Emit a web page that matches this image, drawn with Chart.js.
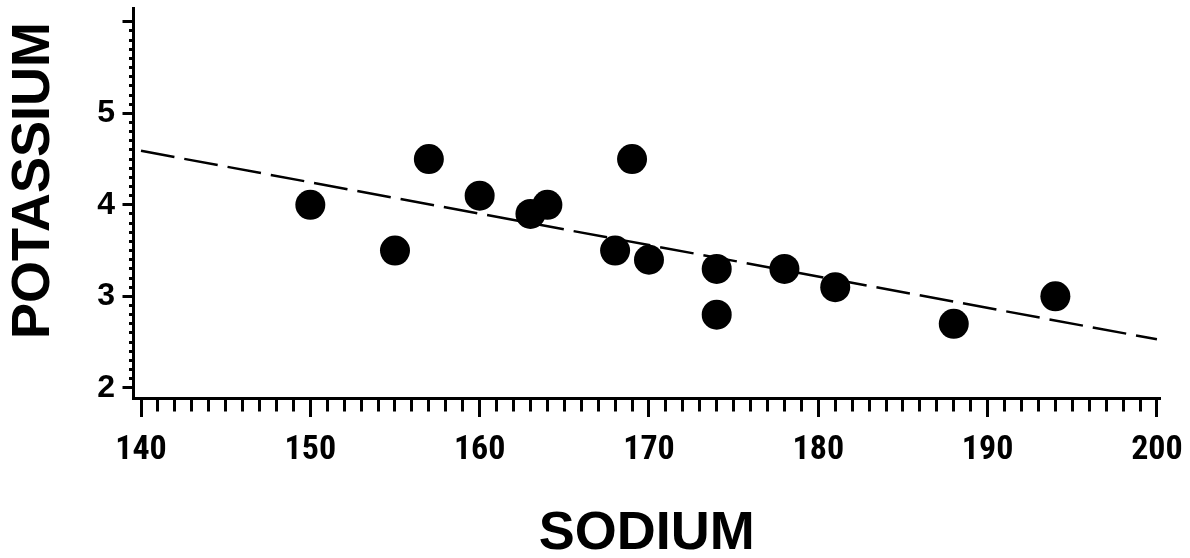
<!DOCTYPE html>
<html>
<head>
<meta charset="utf-8">
<script src="https://cdn.jsdelivr.net/npm/chart.js@4.4.1/dist/chart.umd.min.js"></script>
<style>
  html, body { margin: 0; padding: 0; background: #ffffff; }
  canvas { display: block; }
</style>
</head>
<body>
<canvas id="c" width="1190" height="558"></canvas>
<script>
// ---- data ----
const sodium    = [150, 155, 157, 160, 163, 164, 168, 169, 170, 174, 174, 178, 181, 188, 194];
const potassium = [4.0, 3.5, 4.5, 4.1, 3.9, 4.0, 3.5, 4.5, 3.4, 3.3, 2.8, 3.3, 3.1, 2.7, 3.0];

// dashed fitted line, end points
const fitSodium    = [140, 200];
const fitPotassium = [4.59, 2.53];

// axis ticks
const xMajorTicks = [140, 150, 160, 170, 180, 190, 200];
const xTickLabels = ['140', '150', '160', '170', '180', '190', '200'];
const yMajorTicks = [2, 3, 4, 5, 6];
const yTickLabels = ['2', '3', '4', '5', ''];
const xMinorStep = 1;
const yMinorStep = 0.1;

const xTitle = 'SODIUM';
const yTitle = 'POTASSIUM';

// ---- helpers ----
const near = (a, b) => Math.abs(a - b) < 1e-6;
const xMajorIndex = v => xMajorTicks.findIndex(m => near(m, v));
const yMajorIndex = v => yMajorTicks.findIndex(m => near(m, v));

function minorList(first, last, step) {
  const out = [];
  const n = Math.round((last - first) / step);
  for (let i = 0; i <= n; i++) out.push(Math.round((first + i * step) * 1000) / 1000);
  return out;
}

const titleFont = { family: '"Liberation Sans", Arial, sans-serif', size: 54, weight: 'bold', lineHeight: 0.9 };
const narrowFamily = '"Liberation Sans Narrow", "Arial Narrow", "Roboto Condensed", "Noto Sans ExtraCondensed", "Noto Sans Condensed", "Noto Sans SemiCondensed", "DejaVu Sans Condensed", sans-serif';

new Chart(document.getElementById('c'), {
  type: 'scatter',
  data: {
    datasets: [
      {
        type: 'line',
        label: 'fit',
        data: fitSodium.map((x, i) => ({ x: x, y: fitPotassium[i] })),
        borderColor: '#000000',
        borderWidth: 2.5,
        borderDash: [34, 10],
        pointRadius: 0,
        fill: false,
        tension: 0
      },
      {
        label: 'observations',
        data: sodium.map((x, i) => ({ x: x, y: potassium[i] })),
        backgroundColor: '#000000',
        borderColor: '#000000',
        borderWidth: 0,
        pointRadius: 15,
        pointHoverRadius: 15
      }
    ]
  },
  options: {
    responsive: false,
    animation: false,
    events: [],
    layout: { autoPadding: false, padding: { top: 8, right: 30, bottom: 0, left: 0 } },
    plugins: { legend: { display: false }, tooltip: { enabled: false } },
    scales: {
      x: {
        type: 'linear',
        position: 'bottom',
        min: 139.557,
        max: 200.18,
        afterBuildTicks: s => {
          s.ticks = minorList(xMajorTicks[0], xMajorTicks[xMajorTicks.length - 1], xMinorStep).map(v => ({ value: v }));
        },
        afterFit: s => { s.height = 160; s.paddingLeft = 0; s.paddingRight = 0; },
        grid: {
          drawOnChartArea: false,
          drawTicks: true,
          tickLength: 19,
          tickWidth: 3,
          tickColor: '#000000',
          tickBorderDash: ctx => (ctx.tick && xMajorIndex(ctx.tick.value) < 0) ? [11.5, 100] : []
        },
        border: { display: true, color: '#000000', width: 3 },
        ticks: {
          autoSkip: false,
          maxRotation: 0,
          minRotation: 0,
          padding: 16,
          color: '#000000',
          font: { family: narrowFamily, size: 34, weight: 'bold', lineHeight: 1 },
          callback: v => { const i = xMajorIndex(v); return i >= 0 ? xTickLabels[i] : ''; }
        },
        title: { display: true, text: xTitle, color: '#000000', font: titleFont, padding: { top: 0, bottom: 0 } }
      },
      y: {
        type: 'linear',
        position: 'left',
        min: 1.889,
        max: 6.151,
        afterBuildTicks: s => {
          s.ticks = minorList(yMajorTicks[0], yMajorTicks[yMajorTicks.length - 1], yMinorStep).map(v => ({ value: v }));
        },
        afterFit: s => { s.width = 133.5; s.paddingTop = 0; s.paddingBottom = 0; },
        grid: {
          drawOnChartArea: false,
          drawTicks: true,
          tickLength: 11,
          tickWidth: 3,
          tickColor: '#000000',
          tickBorderDash: ctx => (ctx.tick && yMajorIndex(ctx.tick.value) < 0) ? [0, 6.5, 3.5, 100] : []
        },
        border: { display: true, color: '#000000', width: 3 },
        ticks: {
          autoSkip: false,
          padding: 7.5,
          color: '#000000',
          font: { family: '"Liberation Sans", Arial, sans-serif', size: 32, weight: 'bold', lineHeight: 1 },
          callback: v => { const i = yMajorIndex(v); return i >= 0 ? yTickLabels[i] : ''; }
        },
        title: {
          display: true,
          text: '   ' + yTitle,
          color: '#000000',
          font: { family: '"Liberation Sans", Arial, sans-serif', size: 54, weight: 'bold', lineHeight: 1 },
          padding: { top: 7.5, bottom: 0 }
        }
      }
    }
  }
});
</script>
</body>
</html>
